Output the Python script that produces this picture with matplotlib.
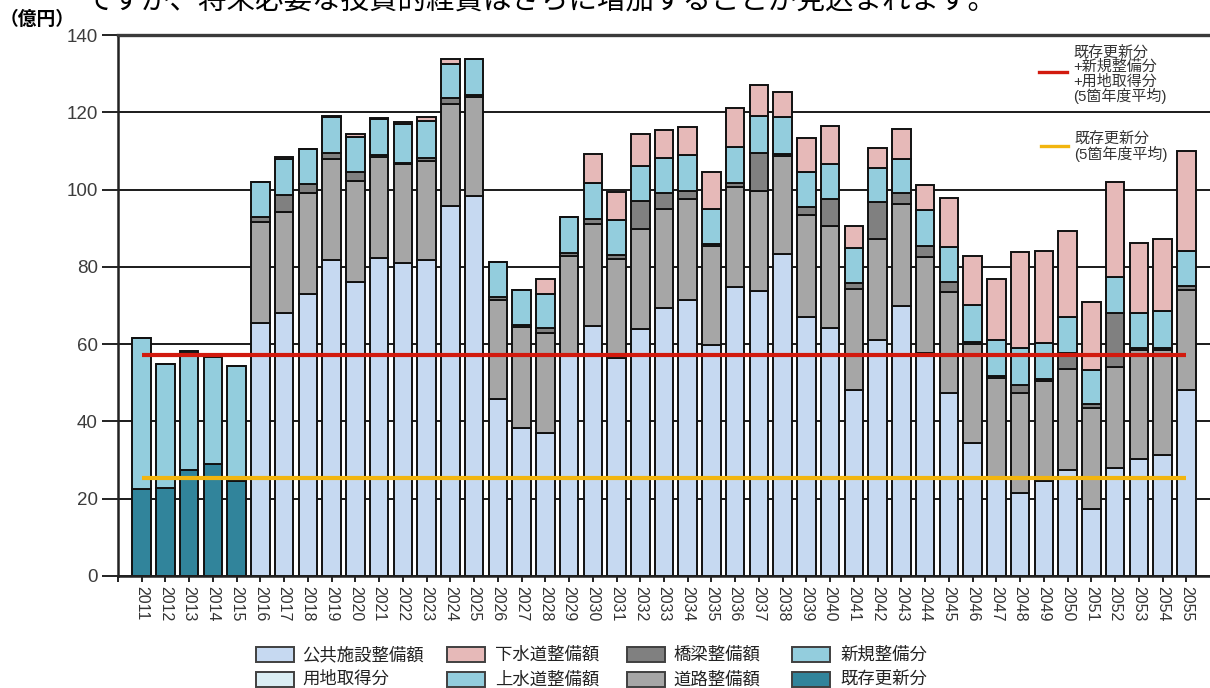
import matplotlib
matplotlib.use("Agg")
import matplotlib.pyplot as plt
from matplotlib.patches import Rectangle
from matplotlib.lines import Line2D
import numpy as np

plt.rcParams['font.family'] = ['Liberation Sans', 'Noto Sans CJK JP']

W, H = 1210, 688

# 2011-2015 実績（億円）
past_years = [2011, 2012, 2013, 2014, 2015]
kizon = [22.4, 22.8, 27.4, 28.9, 24.7]      # 既存更新分
shinki = [39.3, 32.0, 30.2, 27.8, 29.7]     # 新規整備分
youchi = [0.0, 0.0, 0.6, 0.0, 0.0]          # 用地取得分

# 2016-2055 将来推計（億円）
future_years = list(range(2016, 2056))
kokyo = [65.5, 68.1, 73.1, 81.9, 76.0, 82.2, 81.0, 81.8, 95.8, 98.3,
         45.7, 38.2, 37.1, 57.5, 64.8, 56.3, 63.8, 69.3, 71.4, 59.9,
         74.7, 73.7, 83.2, 67.0, 64.3, 48.1, 61.1, 69.9, 57.6, 47.4,
         34.5, 25.3, 21.6, 24.6, 27.4, 17.3, 28.0, 30.4, 31.3, 48.1]   # 公共施設整備額
doro = [26.2, 26.2, 26.1, 25.9, 26.3, 26.1, 25.5, 25.7, 26.3, 25.7,
        25.7, 26.3, 25.8, 25.4, 26.2, 25.7, 26.0, 25.8, 26.1, 25.4,
        26.0, 26.0, 25.5, 26.4, 26.3, 26.1, 26.0, 26.3, 25.0, 26.0,
        25.5, 26.0, 25.8, 25.9, 26.1, 26.3, 26.0, 28.1, 27.3, 25.9]    # 道路整備額
kyoryo = [1.2, 4.2, 2.2, 1.6, 2.2, 0.6, 0.4, 0.6, 1.6, 0.6,
          0.9, 0.5, 1.2, 0.8, 1.4, 1.1, 7.2, 3.9, 2.2, 0.5,
          1.1, 9.8, 0.4, 2.2, 6.9, 1.5, 9.7, 2.8, 2.9, 2.7,
          0.6, 0.4, 2.0, 0.4, 4.3, 0.8, 14.1, 0.4, 0.5, 1.1]           # 橋梁整備額
jousui = [9.1, 9.3, 9.1, 9.4, 9.0, 9.3, 10.0, 9.7, 8.9, 9.3,
          9.0, 9.0, 8.9, 9.1, 9.2, 9.0, 9.2, 9.1, 9.2, 9.2,
          9.1, 9.5, 9.7, 9.0, 9.1, 9.1, 8.9, 8.9, 9.2, 9.1,
          9.5, 9.4, 9.7, 9.3, 9.3, 8.8, 9.3, 9.2, 9.5, 9.1]            # 上水道整備額
gesui = [0.0, 0.7, 0.0, 0.3, 0.8, 0.2, 0.5, 1.0, 1.1, 0.0,
         0.0, 0.0, 3.8, 0.0, 7.6, 7.2, 8.3, 7.2, 7.2, 9.6,
         10.2, 8.0, 6.4, 8.8, 9.8, 5.8, 5.1, 7.8, 6.5, 12.5,
         12.7, 15.7, 24.8, 24.0, 22.2, 17.6, 24.6, 18.2, 18.7, 25.8]   # 下水道整備額

C_KOKYO = '#C6D9F1'
C_YOUCHI = '#DBEEF4'
C_GESUI = '#E6B9B8'
C_JOUSUI = '#93CDDD'
C_KYORYO = '#808080'
C_DORO = '#A6A6A6'
C_SHINKI = '#93CDDD'
C_KIZON = '#31849B'

fig = plt.figure(figsize=(W / 100, H / 100), dpi=100)
ax = fig.add_axes([118 / W, 112 / H, (W - 118) / W, 541 / H])

bar_kw = dict(width=0.78, edgecolor='#111111', linewidth=1.4, zorder=2)

# 実績分の積み上げ
bottom = np.zeros(len(past_years))
for vals, col in [(kizon, C_KIZON), (shinki, C_SHINKI), (youchi, C_YOUCHI)]:
    ax.bar(past_years, vals, bottom=bottom, color=col, **bar_kw)
    bottom += np.array(vals)

# 推計分の積み上げ
bottom = np.zeros(len(future_years))
for vals, col in [(kokyo, C_KOKYO), (doro, C_DORO), (kyoryo, C_KYORYO),
                  (jousui, C_JOUSUI), (gesui, C_GESUI)]:
    ax.bar(future_years, vals, bottom=bottom, color=col, **bar_kw)
    bottom += np.array(vals)

# 5箇年度平均
avg_total = np.mean(np.array(kizon) + np.array(shinki) + np.array(youchi))
avg_kizon = np.mean(kizon)
ax.hlines(avg_total, past_years[0], future_years[-1], color='#D21A0E', lw=3, zorder=3)
ax.hlines(avg_kizon, past_years[0], future_years[-1], color='#F2B50F', lw=3, zorder=3)

ax.set_xlim(2010, 2056)
ax.set_ylim(0, 140)
ax.set_yticks(range(0, 141, 20))
ax.yaxis.grid(True, color='#1a1a1a', lw=1.4, zorder=1)
ax.set_axisbelow(True)

all_years = past_years + future_years
ax.set_xticks([2010] + all_years)
ax.set_xticklabels([''] + [str(y) for y in all_years])

ax.spines['right'].set_visible(False)
ax.spines['top'].set_color('#3a3a3a')
ax.spines['top'].set_linewidth(2.4)
for side in ['left', 'bottom']:
    ax.spines[side].set_linewidth(1.8)
    ax.spines[side].set_color('#222222')

ax.tick_params(axis='y', length=11.5, width=1.4, pad=3, labelsize=13.5,
               labelcolor='#3c3c3c', color='#222222')
ax.tick_params(axis='x', length=4, width=1.4, pad=3, labelsize=11.5,
               labelcolor='#333333', color='#222222', labelrotation=270)

# 単位
fig.text(0, 1 - 20 / H, '（億円）', fontsize=13.5, fontweight='bold',
         va='center', ha='left')

# 上部の本文（一部のみ表示）
fig.text(85 / W, 1 - 1 / H, 'ですが、将来必要な投資的経費はさらに増加することが見込まれます。',
         fontsize=20.5, va='center', ha='left', color='black')


def px(x, y):
    return x / W, 1 - y / H


# 平均線の凡例
for (x0, x1, y), col in [((1039, 1067, 72), '#D21A0E'), ((1041, 1068, 146), '#F2B50F')]:
    (fx0, fy), (fx1, _) = px(x0, y), px(x1, y)
    fig.add_artist(Line2D([fx0, fx1], [fy, fy], color=col, lw=2.4))

fig.text(*px(1073, 75), '既存更新分\n+新規整備分\n+用地取得分\n(5箇年度平均)',
         fontsize=10.8, va='center', ha='left', color='#333333', linespacing=1.0)
fig.text(*px(1074, 147), '既存更新分\n(5箇年度平均)',
         fontsize=10.8, va='center', ha='left', color='#333333', linespacing=1.0)

# 下部の凡例
legend_items = [
    [('公共施設整備額', C_KOKYO), ('下水道整備額', C_GESUI), ('橋梁整備額', C_KYORYO), ('新規整備分', C_SHINKI)],
    [('用地取得分', C_YOUCHI), ('上水道整備額', C_JOUSUI), ('道路整備額', C_DORO), ('既存更新分', C_KIZON)],
]
patch_x = [256, 447, 627, 792]
text_x = [302, 495, 673, 840]
row_y = [654.5, 679]
for r, row in enumerate(legend_items):
    for c, (label, col) in enumerate(row):
        x0, y0 = px(patch_x[c], row_y[r] + 7.5)
        fig.add_artist(Rectangle((x0, y0), 38 / W, 15 / H, facecolor=col,
                                 edgecolor='#404040', lw=1.4, transform=fig.transFigure))
        fig.text(*px(text_x[c], row_y[r]), label, fontsize=12.5, va='center', ha='left',
                 color='#222222')

fig.savefig('out.png', dpi=100)
